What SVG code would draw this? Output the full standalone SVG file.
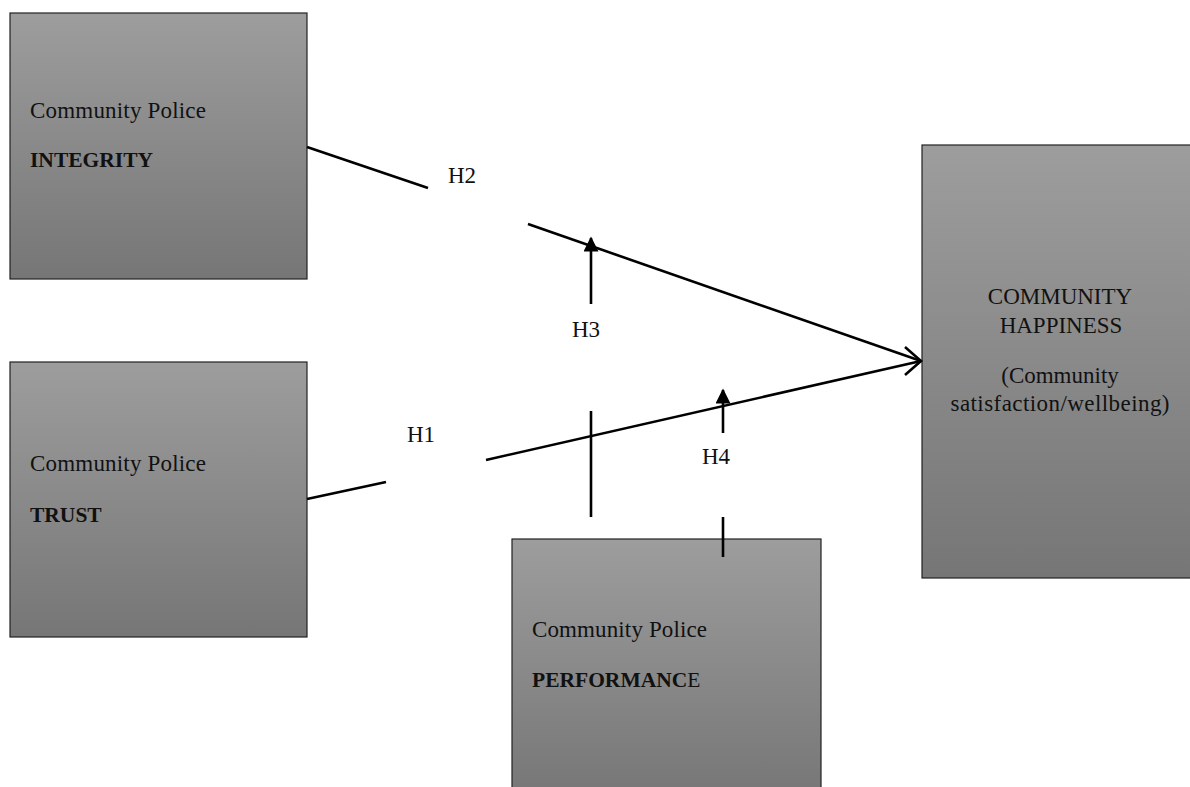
<svg xmlns="http://www.w3.org/2000/svg" width="1190" height="787" viewBox="0 0 1190 787">
<defs>
<linearGradient id="g" x1="0" y1="0" x2="0" y2="1">
<stop offset="0" stop-color="#9d9d9d"/>
<stop offset="1" stop-color="#767676"/>
</linearGradient>
<marker id="tri" viewBox="0 0 10 10" refX="9" refY="5" markerWidth="17" markerHeight="15" markerUnits="userSpaceOnUse" orient="auto">
<path d="M0,0 L10,5 L0,10 z" fill="#000"/>
</marker>
<style>
.box{fill:url(#g);stroke:#222;stroke-width:1.2}
.t{font-family:"Liberation Serif","Times New Roman",serif;font-size:23px;fill:#111}
.b{font-weight:bold;font-size:21.5px}
.c{text-anchor:middle}
.ln{stroke:#000;stroke-width:2.6;fill:none}
</style>
</defs>
<rect width="1190" height="787" fill="#fff"/>
<g id="integrity">
<rect class="box" x="10" y="13" width="297" height="266"/>
<text class="t" x="30" y="118" textLength="176">Community Police</text>
<text class="t b" x="30" y="167">INTEGRITY</text>
</g>
<g id="trust">
<rect class="box" x="10" y="362" width="297" height="275"/>
<text class="t" x="30" y="471" textLength="176">Community Police</text>
<text class="t b" x="30" y="522">TRUST</text>
</g>
<g id="performance">
<rect class="box" x="512" y="539" width="309" height="260"/>
<text class="t" x="532" y="637" textLength="175">Community Police</text>
<text class="t" x="532" y="687" style="font-size:21.5px"><tspan class="b">PERFORMANC</tspan>E</text>
</g>
<g id="happiness">
<rect class="box" x="922" y="145" width="275" height="433"/>
<text class="t c" x="1060" y="304">COMMUNITY</text>
<text class="t c" x="1061" y="333">HAPPINESS</text>
<text class="t c" x="1060" y="383">(Community</text>
<text class="t c" x="1060" y="411" textLength="219">satisfaction/wellbeing)</text>
</g>
<g id="connectors">
<path class="ln" d="M307,147 L428,188"/>
<path class="ln" d="M528,224 L921,361"/>
<path class="ln" d="M307,499 L386,482"/>
<path class="ln" d="M486,460 L921,361"/>
<path class="ln" d="M905,347 L921,361 L905,375"/>
<path class="ln" d="M591,304 L591,238" marker-end="url(#tri)"/>
<path class="ln" d="M591,411 L591,517"/>
<path class="ln" d="M723,433 L723,390" marker-end="url(#tri)"/>
<path class="ln" d="M723,517 L723,557"/>
</g>
<g id="labels">
<text class="t" x="448" y="183">H2</text>
<text class="t" x="572" y="337">H3</text>
<text class="t" x="407" y="442">H1</text>
<text class="t" x="702" y="464">H4</text>
</g>
</svg>
